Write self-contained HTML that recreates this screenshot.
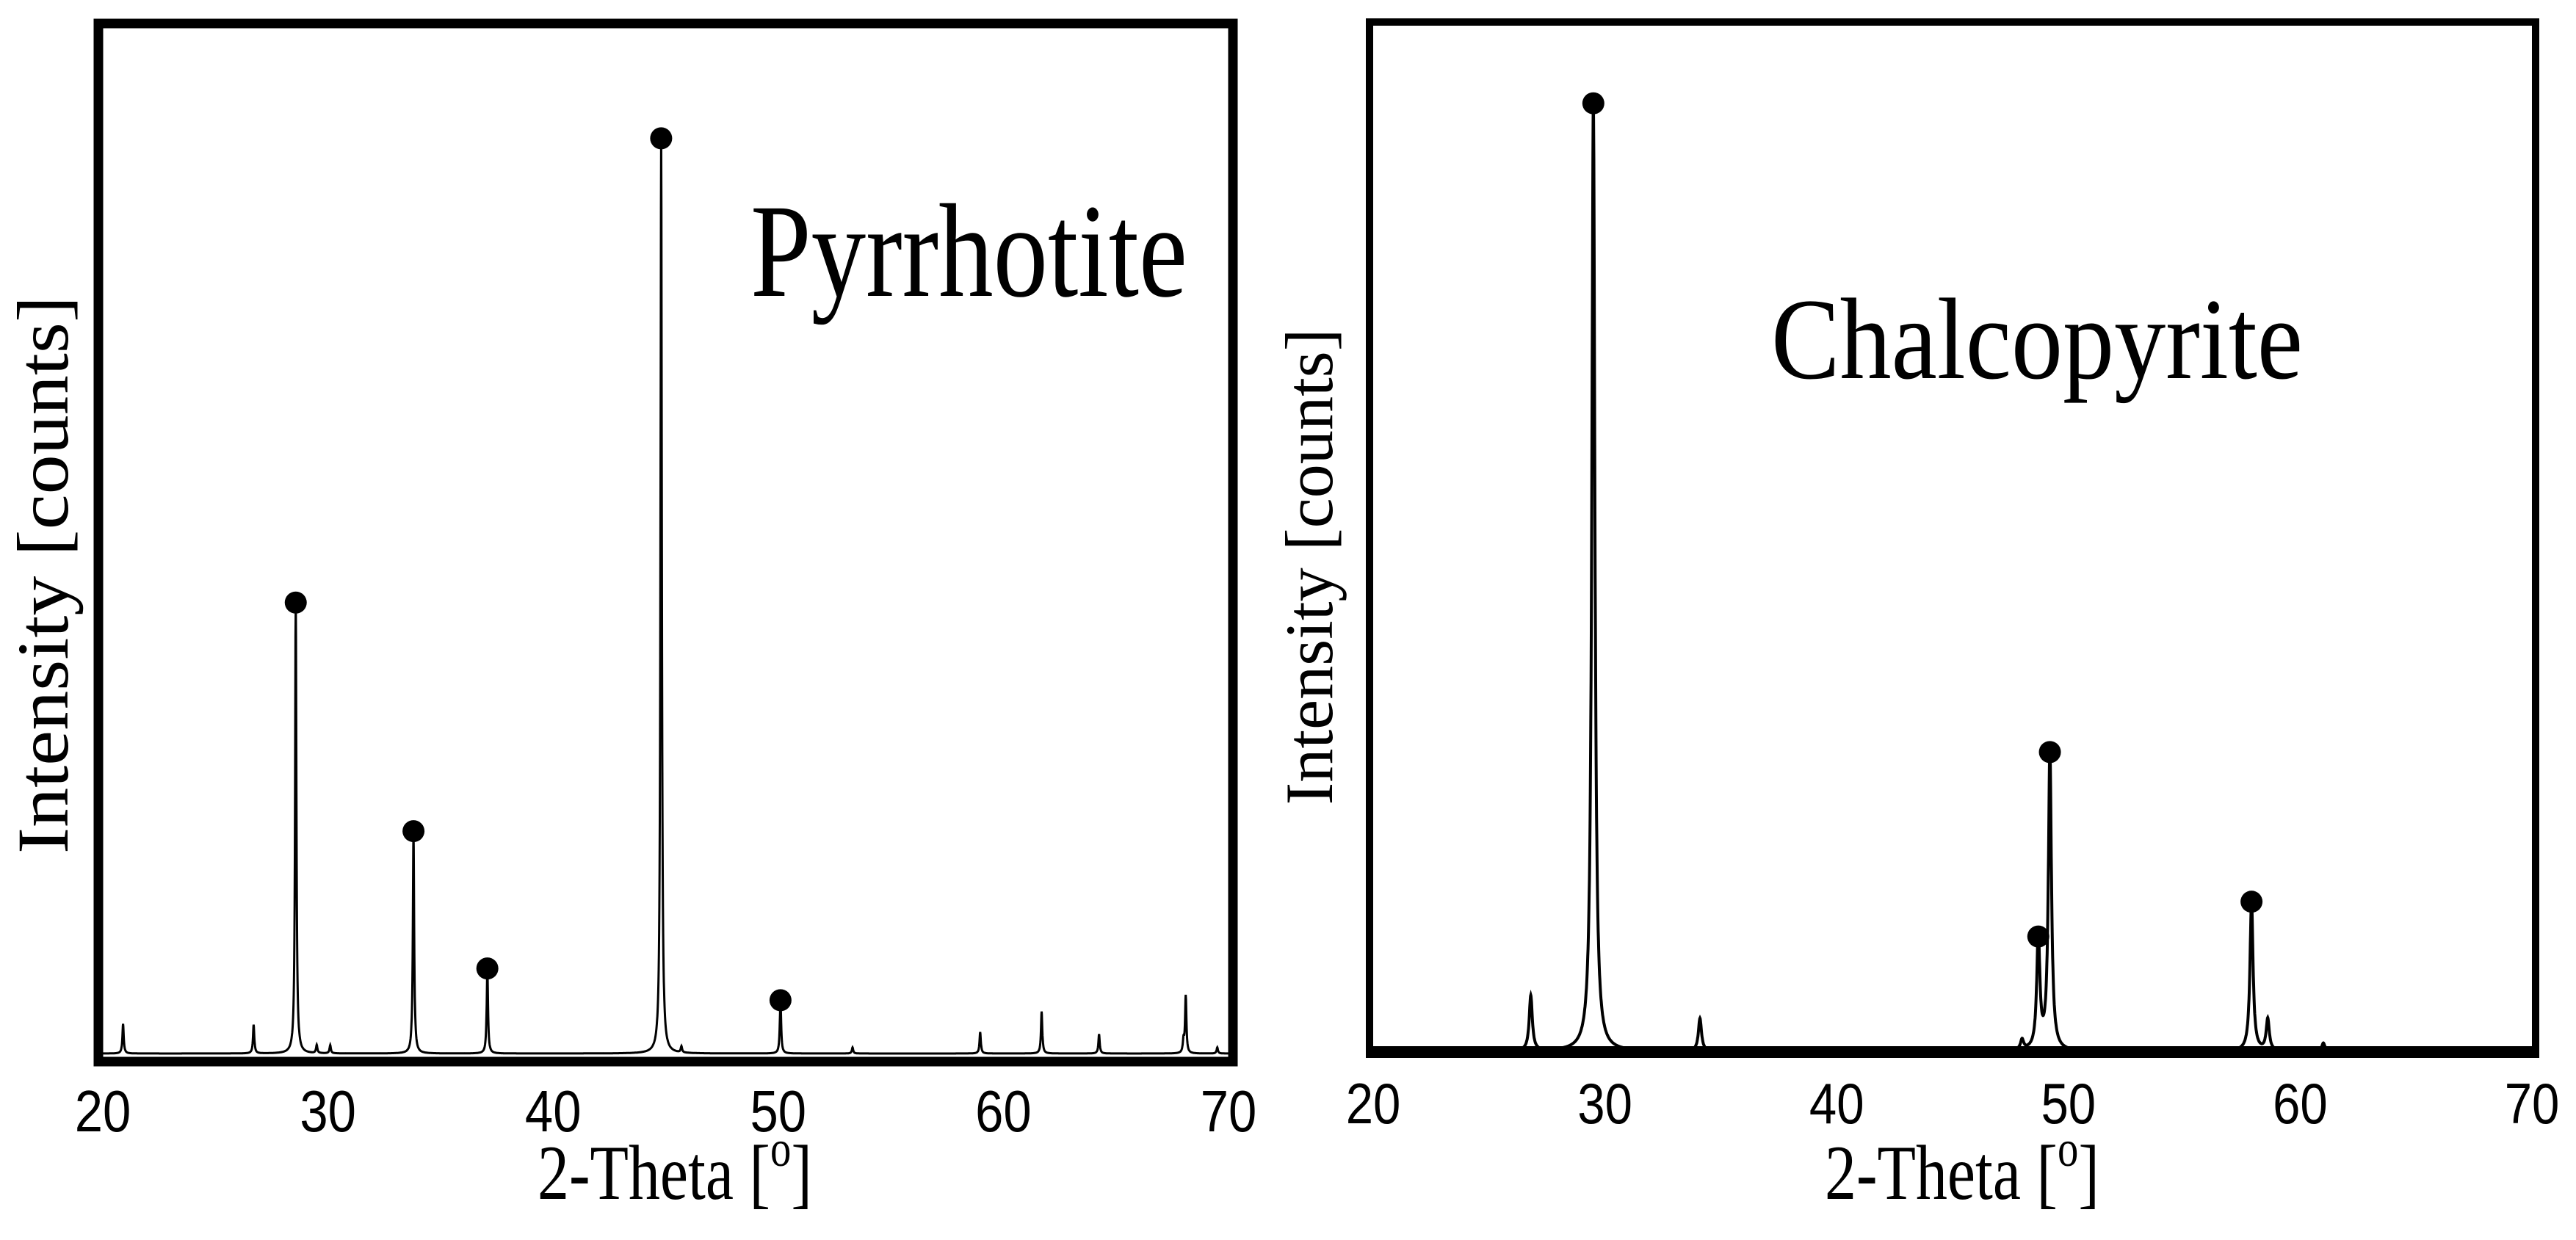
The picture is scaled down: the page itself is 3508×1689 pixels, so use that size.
<!DOCTYPE html>
<html><head><meta charset="utf-8"><style>
html,body{margin:0;padding:0;background:#fff;}
svg{display:block;}
</style></head><body>
<svg id="fig" width="3508" height="1689" viewBox="0 0 3508 1689" xmlns="http://www.w3.org/2000/svg">
<rect x="0" y="0" width="3508" height="1689" fill="#fff"/>
<g id="left"></g>
<g id="right"></g>
</svg>
<script>
// ---- data ----
const xTicks = [20, 30, 40, 50, 60, 70];
const pyrPos = [20.9, 26.7, 28.57, 29.5, 30.1, 33.8, 37.08, 44.8, 45.7, 50.1, 53.3, 58.97, 61.7, 64.25, 68.0, 68.1, 69.5];
const pyrHeight = [2.9, 2.8, 44.0, 0.8, 0.8, 21.7, 8.3, 89.3, 0.6, 5.2, 0.6, 2.1, 4.1, 1.9, 1.2, 5.6, 0.6];
const pyrMarked = [28.57, 33.8, 37.08, 44.8, 50.1];
const pyrMarkedH = [44.0, 21.7, 8.3, 89.3, 5.2];
const chaPos = [26.8, 29.5, 34.1, 48.0, 48.7, 49.2, 57.9, 58.6, 61.0];
const chaHeight = [5.4, 92.5, 3.2, 1.0, 11.2, 29.2, 14.6, 3.1, 0.8];
const chaMarked = [29.5, 48.7, 49.2, 57.9];
const chaMarkedH = [92.5, 11.2, 29.2, 14.6];

const NS = "http://www.w3.org/2000/svg";
function mk(tag, attrs, parent) {
  const e = document.createElementNS(NS, tag);
  for (const k in attrs) e.setAttribute(k, attrs[k]);
  parent.appendChild(e);
  return e;
}

function panel(g, cfg, pos, hts, mPos, mH, title) {
  const xs = v => cfg.x0 + (v - 20) / 50 * (cfg.x1 - cfg.x0);
  const ys = v => cfg.yb - v / 100 * (cfg.yb - cfg.yt);
  let d = "";
  for (let t = 20; t <= 70.0001; t += 0.01) {
    let v = 0;
    for (let i = 0; i < pos.length; i++) {
      const z = (t - pos[i]) / cfg.w;
      v += hts[i] / (1 + z * z * 4);
    }
    d += (d ? "L" : "M") + xs(t).toFixed(1) + "," + ys(v).toFixed(1);
  }
  if (cfg.noise) {
    const band = mk("rect", {x: cfg.x0, y: cfg.yb - 7, width: cfg.x1 - cfg.x0, height: 7, fill: "#000"}, g);
    
    
  }
  const line = mk("path", {d: d, fill: "none", stroke: "#000", "stroke-width": cfg.lw}, g);
  
  
  for (let i = 0; i < mPos.length; i++) {
    const c = mk("circle", {cx: xs(mPos[i]), cy: ys(mH[i]), r: 15, fill: "#000"}, g);
    
    
  }
  const fr = mk("rect", {x: cfg.fx, y: cfg.fy, width: cfg.fw, height: cfg.fh, fill: "none", stroke: "#000", "stroke-width": cfg.sw}, g);
  
  
  for (const t of xTicks) {
    const tx = mk("text", {x: 0, y: 0, "font-family": "Liberation Sans, Arial, sans-serif", "font-size": cfg.tf, "text-anchor": "middle",
      transform: "translate(" + xs(t) + "," + cfg.tb + ") scale(0.86,1)"}, g);
    tx.textContent = t;
    
    
  }
  const xt = mk("text", {x: 0, y: 0, "font-family": "Liberation Serif, Times New Roman, serif", "font-size": 106, "text-anchor": "middle",
    transform: "translate(" + cfg.xtx + ",1633) scale(0.81,1)"}, g);
  xt.innerHTML = '2-Theta [<tspan dy="-45" font-size="70">o</tspan><tspan dy="45">]</tspan>';
  
  
  const yt = mk("text", {x: 0, y: 0, "font-family": "Liberation Serif, Times New Roman, serif", "font-size": cfg.ytf, "text-anchor": "middle",
    textLength: cfg.ytl, lengthAdjust: "spacingAndGlyphs",
    transform: "translate(" + cfg.ytx + "," + cfg.yty + ") rotate(-90)"}, g);
  yt.textContent = "Intensity [counts]";
  
  
  const tt = mk("text", {x: cfg.tx, y: cfg.ty, "font-family": "Liberation Serif, Times New Roman, serif", "font-size": cfg.tfs,
    textLength: cfg.tl, lengthAdjust: "spacingAndGlyphs"}, g);
  tt.textContent = title;
  
  
}

panel(document.getElementById("left"),
  {x0: 140, x1: 1673, yb: 1435, yt: 39, w: 0.07, noise: false, lw: 3,
   fx: 134, fy: 32, fw: 1545, fh: 1414, sw: 13, tf: 80, tb: 1541,
   xtx: 919, ytx: 92, yty: 783, ytf: 100, ytl: 760, tx: 1022, ty: 403, tfs: 182, tl: 595},
  pyrPos, pyrHeight, pyrMarked, pyrMarkedH, "Pyrrhotite");

panel(document.getElementById("right"),
  {x0: 1870, x1: 3448, yb: 1432, yt: 36, w: 0.16, noise: true, lw: 4,
   fx: 1865, fy: 30, fw: 1588, fh: 1406, sw: 10, tf: 78, tb: 1530,
   xtx: 2672, ytx: 1814, yty: 772, ytf: 92, ytl: 649, tx: 2412, ty: 515, tfs: 158, tl: 724},
  chaPos, chaHeight, chaMarked, chaMarkedH, "Chalcopyrite");
</script>
</body></html>
